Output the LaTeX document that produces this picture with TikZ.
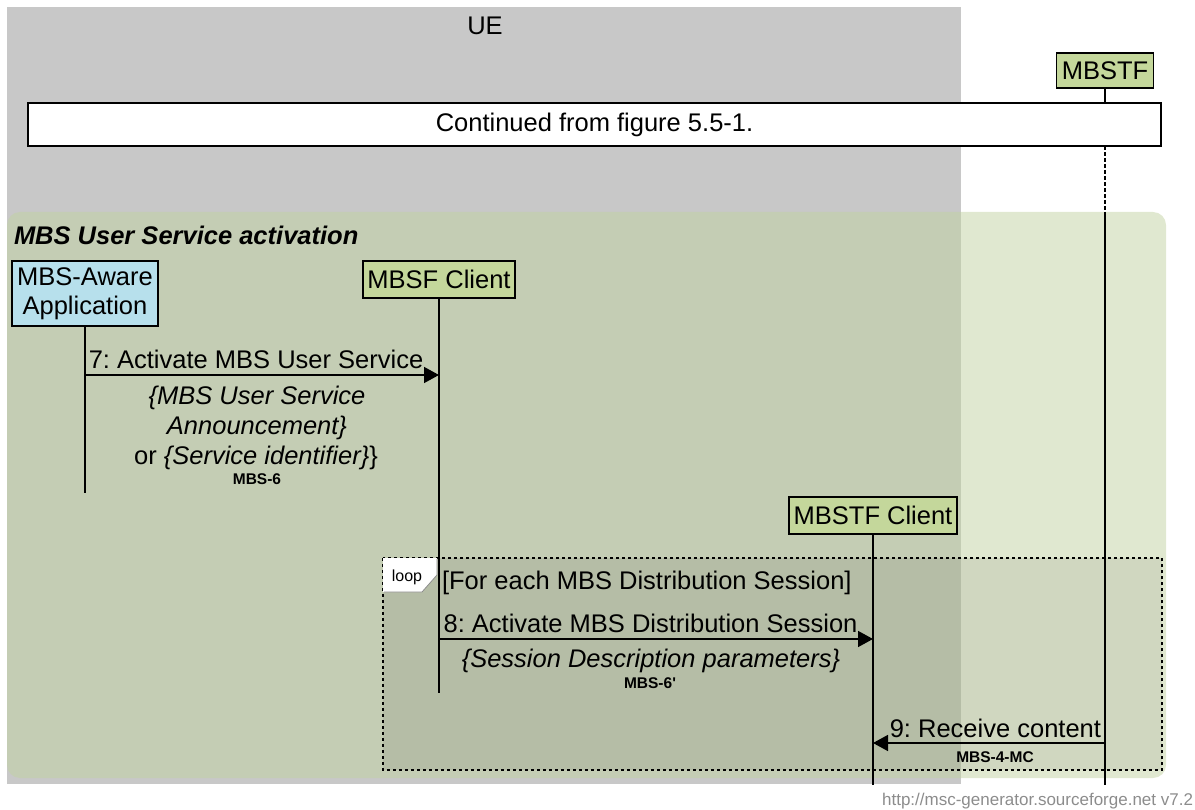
\documentclass[tikz,border=0pt]{standalone}
\usepackage{fontspec}
\setmainfont{Liberation Sans}
\usetikzlibrary{arrows.meta}
\definecolor{uegray}{RGB}{200,200,200}
\definecolor{grpgreen}{RGB}{194,210,161}
\definecolor{entgreen}{RGB}{196,215,155}
\definecolor{entblue}{RGB}{183,224,236}
\definecolor{footgray}{RGB}{140,140,140}
\frenchspacing
\begin{document}
\begin{tikzpicture}[x=1pt,y=-1pt,
  every node/.style={inner sep=0pt, outer sep=0pt},
  big/.style={font=\fontsize{25.5}{29}\selectfont},
  lbl/.style={big, text height=18.3pt, text depth=0pt},
  ilbl/.style={lbl, font=\fontsize{25.5}{29}\selectfont\itshape},
  small/.style={font=\fontsize{15.5}{18}\selectfont\bfseries, text height=11.1pt, text depth=0pt},
  entity/.style={draw=black, line width=1.3pt, big, align=center},
  life/.style={line width=1.5pt},
  msg/.style={line width=1.5pt, -{Triangle[length=15pt,width=16pt]}},
]
\useasboundingbox (0,0) rectangle (1195,810);

% UE instance group
\fill[uegray] (7,7) rectangle (961,784);
\node[lbl] (ue) at (485,25) {UE};

% MBS User Service activation group
\fill[grpgreen, fill opacity=0.5, rounded corners=13pt] (7,212) rectangle (1166,778);
\node[lbl, font=\fontsize{25.5}{29}\selectfont\bfseries\itshape, anchor=west] (grp) at (14,235) {MBS User Service activation};

% loop box
\fill[black, fill opacity=0.075] (383,558) rectangle (1162,770);
\draw[line width=1.5pt, dash pattern=on 3pt off 3pt] (383,558) rectangle (1162,770);
\fill[white] (383,558) -- (437,558) -- (437,575) -- (422,592) -- (383,592) -- cycle;
\draw[black!45, line width=0.8pt] (437,559) -- (437,575) -- (422,592) -- (384,592);
\node[font=\fontsize{16}{18}\selectfont, anchor=base] (looptag) at (407,581) {loop};
\node[lbl, anchor=west] (loopcond) at (442,580) {[For each MBS Distribution Session]};

% entities
\node[entity, fill=entgreen, minimum width=97pt, minimum height=35pt] (mbstf) at (1105,70.5) {MBSTF};
\node[entity, fill=entblue, minimum width=146pt, minimum height=65pt] (app) at (85,293.5) {MBS-Aware\\Application};
\node[entity, fill=entgreen, minimum width=152pt, minimum height=37pt] (mbsf) at (439,279.5) {MBSF Client};
\node[entity, fill=entgreen, minimum width=168pt, minimum height=37pt] (mbstfc) at (873,515.5) {MBSTF Client};

% continued box
\node[draw=black, fill=white, line width=1.3pt, minimum width=1133pt, minimum height=43pt, big] (cont) at (594.5,124.5) {Continued from figure 5.5-1.};

% lifeline end points
\coordinate (mbstfA) at (1105,103);
\coordinate (mbstfB) at (1105,146);
\coordinate (mbstfC) at (1105,212);
\coordinate (mbstfEnd) at (1105,785);
\coordinate (appEnd) at (85,493);
\coordinate (mbsfEnd) at (439,693);
\coordinate (mbstfcEnd) at (873,785);

\draw[life] (mbstf.south) -- (mbstfA);
\draw[life, dash pattern=on 4pt off 2pt] (mbstfB) -- (mbstfC);
\draw[life] (mbstfC) -- (mbstfEnd);
\draw[life] (app.south) -- (appEnd);
\draw[life] (mbsf.south) -- (mbsfEnd);
\draw[life] (mbstfc.south) -- (mbstfcEnd);

% message 7
\coordinate (m7a) at (85,375);
\coordinate (m7b) at (439,375);
\draw[msg] (m7a) -- (m7b);
\node[lbl] (l7) at (256,359) {7: Activate MBS User Service};
\node[ilbl] (l7a) at (257,395) {\{MBS User Service};
\node[ilbl] (l7b) at (257,425) {Announcement\}};
\node[lbl] (l7c) at (256,455) {or \textit{\{Service identifier\}}\}};
\node[small] (l7d) at (257,479) {MBS-6};

% message 8
\coordinate (m8a) at (439,639);
\coordinate (m8b) at (873,639);
\draw[msg] (m8a) -- (m8b);
\node[lbl] (l8) at (650.5,623) {8: Activate MBS Distribution Session};
\node[ilbl] (l8a) at (651,658) {\{Session Description parameters\}};
\node[small] (l8b) at (650,683) {MBS-6\textquotesingle};

% message 9
\coordinate (m9a) at (1105,743);
\coordinate (m9b) at (873,743);
\draw[msg] (m9a) -- (m9b);
\node[lbl, anchor=east] (l9) at (1101,728) {9: Receive content};
\node[small] (l9a) at (995,757) {MBS-4-MC};

% footer
\node[font=\fontsize{17}{20}\selectfont, text=footgray, anchor=east, text height=12.2pt, text depth=0pt] (foot) at (1193,799) {http://msc-generator.sourceforge.net v7.2};
\end{tikzpicture}
\end{document}
